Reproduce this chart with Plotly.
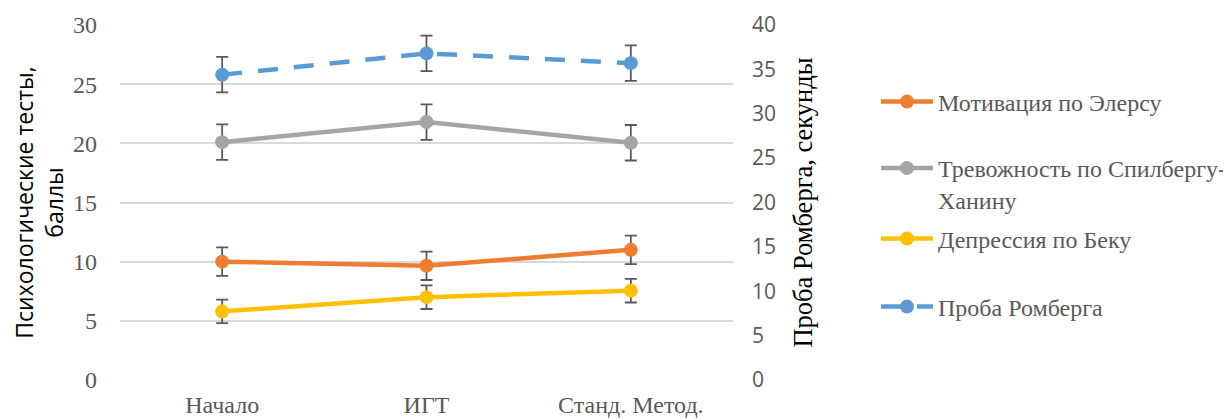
import plotly.graph_objects as go

categories = ["Начало", "ИГТ", "Станд. Метод."]

motivation = [10.0, 9.65, 11.0]
motivation_err = [1.2, 1.2, 1.2]
anxiety = [20.1, 21.8, 20.05]
anxiety_err = [1.5, 1.5, 1.5]
depression = [5.8, 7.0, 7.55]
depression_err = [1.0, 1.0, 1.0]
romberg = [34.4, 36.8, 35.7]
romberg_err = [2.0, 2.0, 2.0]

names = ["Мотивация по Элерсу", "Тревожность по Спилбергу-<br>Ханину", "Депрессия по Беку", "Проба Ромберга"]
colors = ["#ED7D31", "#A5A5A5", "#FFC000", "#5B9BD5"]
legend_ids = ["legend", "legend2", "legend3", "legend4"]
legend_y = [0.7831, 0.5521, 0.3972, 0.2056]

SERIF = "Liberation Serif, Times New Roman, serif"
SANS = "Open Sans, Liberation Sans, sans-serif"
ERR = "#595959"
TXT = "#595959"

fig = go.Figure()

series = [
    (motivation, motivation_err, "y", "solid"),
    (anxiety, anxiety_err, "y", "solid"),
    (depression, depression_err, "y", "solid"),
    (romberg, romberg_err, "y2", "20px,16px"),
]
for i, (vals, err, ax, dash) in enumerate(series):
    fig.add_trace(go.Scatter(
        x=categories, y=vals, name=names[i], yaxis=ax,
        mode="lines+markers",
        line=dict(color=colors[i], width=4.5, dash=dash),
        marker=dict(color=colors[i], size=14),
        error_y=dict(type="data", array=err, visible=True, color=ERR, thickness=1.8, width=6),
        legend=legend_ids[i],
    ))

legend_common = dict(
    x=1.2333, xanchor="left", yanchor="middle",
    font=dict(family=SERIF, size=24, color=TXT),
    valign="top", itemwidth=52, bgcolor="rgba(0,0,0,0)",
)

fig.update_layout(
    width=1223, height=411,
    margin=dict(l=112, r=498, t=17, b=39, autoexpand=False),
    paper_bgcolor="white", plot_bgcolor="white",
    showlegend=True,
    legend=dict(legend_common, y=legend_y[0]),
    legend2=dict(legend_common, y=legend_y[1]),
    legend3=dict(legend_common, y=legend_y[2]),
    legend4=dict(legend_common, y=legend_y[3]),
    xaxis=dict(
        type="category", range=[-0.5, 2.5], automargin=False,
        showgrid=False, zeroline=False, showline=False,
        ticks="", ticklabelstandoff=8,
        tickfont=dict(family=SERIF, size=24, color=TXT),
    ),
    yaxis=dict(
        range=[0, 30], dtick=5, showgrid=True, gridcolor="#D9D9D9", gridwidth=1.5,
        zeroline=False, showline=False, ticks="", automargin=False,
        ticklabelstandoff=22,
        tickfont=dict(family=SERIF, size=24, color=TXT),
        title=dict(text="Психологические тесты,<br>баллы", font=dict(family=SANS, size=23, color="black"), standoff=8),
    ),
    yaxis2=dict(
        range=[0, 40], dtick=5, overlaying="y", side="right", automargin=False,
        showgrid=False, zeroline=False, showline=False, ticks="",
        ticklabelstandoff=18,
        tickfont=dict(family=SANS, size=21, color=TXT),
        title=dict(text="Проба Ромберга, секунды", font=dict(family=SERIF, size=26.5, color="black"), standoff=18),
    ),
)

fig.write_html("out.html")
